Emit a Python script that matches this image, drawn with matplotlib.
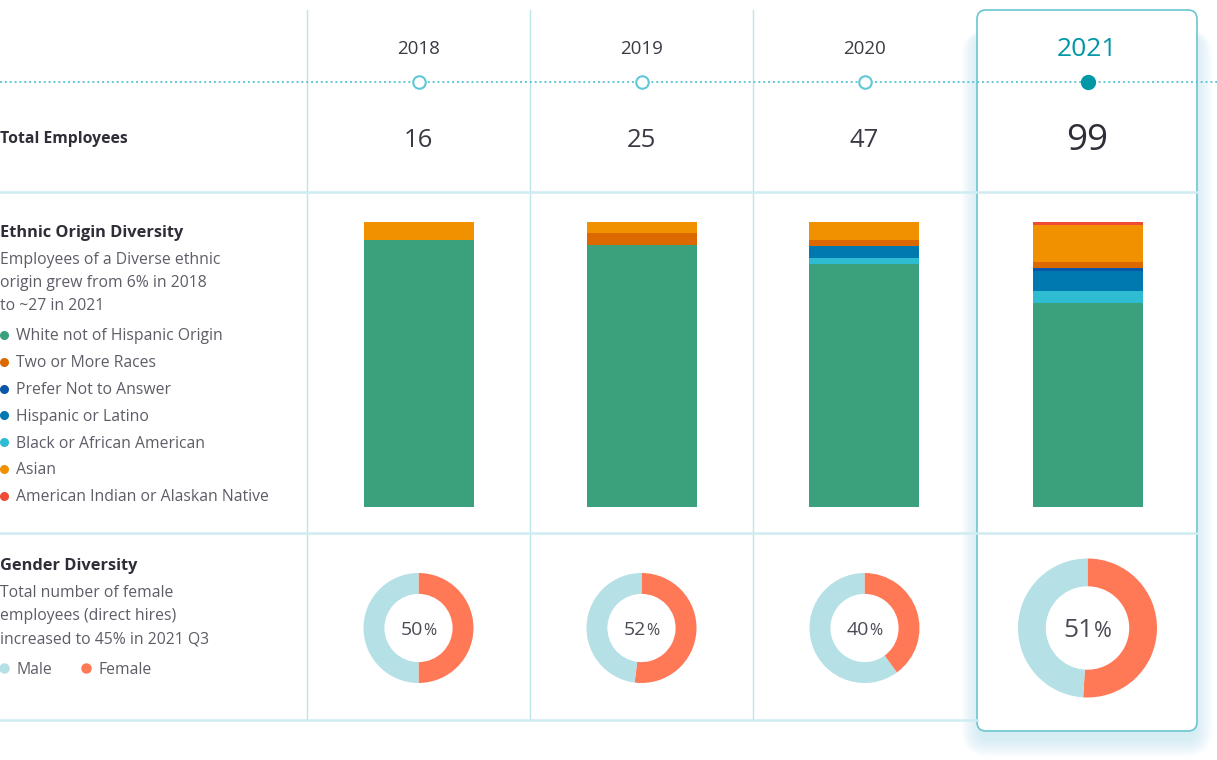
import matplotlib
matplotlib.use("Agg")
import matplotlib.pyplot as plt
from matplotlib.patches import FancyBboxPatch
import numpy as np

# ---------------- data ----------------
years = ["2018", "2019", "2020", "2021"]
total_employees = [16, 25, 47, 99]

ethnic_categories = ["White not of Hispanic Origin", "Two or More Races",
                     "Prefer Not to Answer", "Hispanic or Latino",
                     "Black or African American", "Asian",
                     "American Indian or Alaskan Native"]
white = [15, 23, 40, 71]
two_or_more = [0, 1, 1, 2]
prefer_not = [0, 0, 0, 1]
hispanic = [0, 0, 2, 7]
black = [0, 0, 1, 4]
asian = [1, 1, 3, 13]
american_indian = [0, 0, 0, 1]

female_pct = [50, 52, 40, 51]
gender_labels = ["Male", "Female"]

# ---------------- style ----------------
plt.rcParams['font.family'] = ['Open Sans', 'DejaVu Sans']
W, H = 1217, 760
DARK = "#2e2e38"
GRAY = "#5d5d68"
TEAL = "#0097a7"
DOT = "#5ec8d8"
GRID = "#cfecf1"
colors = {
    "White not of Hispanic Origin": "#3ba17c",
    "Two or More Races": "#dc6900",
    "Prefer Not to Answer": "#0a56a8",
    "Hispanic or Latino": "#0079b0",
    "Black or African American": "#2dbcd2",
    "Asian": "#f29100",
    "American Indian or Alaskan Native": "#ef4b35",
}
MALE_C = "#b4e0e6"
FEMALE_C = "#ff7956"

fig = plt.figure(figsize=(W / 100, H / 100), dpi=100)
fig.patch.set_facecolor("white")


def px_axes(x, y, w, h, **kw):
    return fig.add_axes([x / W, 1 - (y + h) / H, w / W, h / H], **kw)


bg = px_axes(0, 0, W, H)
bg.set_xlim(0, W)
bg.set_ylim(H, 0)
bg.axis("off")
bg.set_zorder(0)

col_left = 307
col_w = 223
centers = [col_left + col_w * (i + 0.5) for i in range(4)]

# card shadow + card
cx0, cy0, cx1, cy1 = 977, 10, 1197, 731
for k in range(12):
    g = 1 + k * 1.5
    bg.add_patch(FancyBboxPatch((cx0 - g + 2, cy0 + 25 - g * 0.3), (cx1 - cx0) + 2 * g - 4,
                                (cy1 - cy0) - 25 + g * 1.3 + 8,
                                boxstyle="round,pad=0,rounding_size=%f" % (10 + g),
                                facecolor="#6fcad8", edgecolor="none", alpha=0.022, zorder=1))
bg.add_patch(FancyBboxPatch((cx0, cy0), cx1 - cx0, cy1 - cy0,
                            boxstyle="round,pad=0,rounding_size=9",
                            facecolor="white", edgecolor="#6cc5d3", lw=1.2, zorder=2))

# grid lines
for x in [307, 530, 753]:
    bg.plot([x, x], [10, 720], color="#bfe5ec", lw=1, zorder=3)
for y in [192, 533]:
    bg.plot([0, 1197], [y, y], color=GRID, lw=1.8, zorder=3)
bg.plot([0, 977], [720, 720], color=GRID, lw=1.8, zorder=3)

# dotted timeline
bg.plot([0, W], [82, 82], color=DOT, lw=1.4, ls=(0, (1, 1.5)), zorder=4)
for i, cx in enumerate(centers):
    if i < 3:
        bg.plot([cx], [82], marker="o", ms=9, mfc="white", mec=DOT, mew=1.5, zorder=5)
    else:
        bg.plot([cx], [82], marker="o", ms=10, mfc=TEAL, mec=TEAL, zorder=5)

# years and totals
for i, (cx, yr, tot) in enumerate(zip(centers, years, total_employees)):
    if i < 3:
        bg.text(cx, 54, yr, ha="center", va="baseline", fontsize=13.5, color="#3a3a44", zorder=6)
        bg.text(cx, 147, str(tot), ha="center", va="baseline", fontsize=18.5, color="#3a3a44", zorder=6)
    else:
        bg.text(cx, 56, yr, ha="center", va="baseline", fontsize=19, color=TEAL,
                fontweight="medium", zorder=6)
        bg.text(cx, 150, str(tot), ha="center", va="baseline", fontsize=26.5, color=DARK, zorder=6)

# left panel text
TXT = 11.3
bg.text(0, 143, "Total Employees", ha="left", va="baseline", fontsize=11.3,
        fontweight="bold", color=DARK, zorder=6)
bg.text(0, 237, "Ethnic Origin Diversity", ha="left", va="baseline", fontsize=11.8,
        fontweight="bold", color=DARK, zorder=6)
for j, line in enumerate(["Employees of a Diverse ethnic", "origin grew from 6% in 2018",
                          "to ~27 in 2021"]):
    bg.text(0, 264 + 23 * j, line, ha="left", va="baseline", fontsize=TXT, color=GRAY, zorder=6)
for j, cat in enumerate(ethnic_categories):
    y = 335 + 26.8 * j
    bg.plot([4], [y], marker="o", ms=5.5, color=colors[cat], zorder=6)
    bg.text(16, y + 5.5, cat, ha="left", va="baseline", fontsize=TXT, color=GRAY, zorder=6)

bg.text(0, 570, "Gender Diversity", ha="left", va="baseline", fontsize=11.8,
        fontweight="bold", color=DARK, zorder=6)
for j, line in enumerate(["Total number of female", "employees (direct hires)",
                          "increased to 45% in 2021 Q3"]):
    bg.text(0, 597 + 23 * j, line, ha="left", va="baseline", fontsize=TXT, color=GRAY, zorder=6)
for (lx, lab, c) in [(4, gender_labels[0], MALE_C), (86, gender_labels[1], FEMALE_C)]:
    bg.plot([lx], [668], marker="o", ms=6.5, color=c, zorder=6)
    bg.text(lx + 12, 673.5, lab, ha="left", va="baseline", fontsize=TXT, color=GRAY, zorder=6)

# ---------------- stacked bars ----------------
bax = px_axes(col_left, 222, col_w * 4, 285)
bax.set_zorder(2)
bax.patch.set_alpha(0)
bax.axis("off")
bax.set_xlim(-0.5, 3.5)
bax.set_ylim(0, 1)
totals = np.array(total_employees, dtype=float)
stack_order = [("White not of Hispanic Origin", white),
               ("Black or African American", black),
               ("Hispanic or Latino", hispanic),
               ("Prefer Not to Answer", prefer_not),
               ("Two or More Races", two_or_more),
               ("Asian", asian),
               ("American Indian or Alaskan Native", american_indian)]
bottom = np.zeros(4)
xpos = np.arange(4)
for cat, vals in stack_order:
    share = np.array(vals) / totals
    bax.bar(xpos, share, bottom=bottom, width=110 / col_w, color=colors[cat],
            edgecolor="none")
    bottom += share

# ---------------- donuts ----------------
fig.canvas.draw()
renderer = fig.canvas.get_renderer()
for i, (cx, fp) in enumerate(zip(centers, female_pct)):
    r = 55 if i < 3 else 69.5
    width = 0.38 if i < 3 else 0.40
    dax = px_axes(cx - r, 628 - r, 2 * r, 2 * r)
    dax.set_zorder(2)
    dax.pie([fp, 100 - fp], colors=[FEMALE_C, MALE_C], startangle=90,
            counterclock=False, radius=1,
            wedgeprops=dict(width=width, edgecolor="none"))
    dax.set_xlim(-1, 1)
    dax.set_ylim(-1, 1)
    dax.set_aspect("equal")
    dax.axis("off")
    nfs, pfs = (14, 11.5) if i < 3 else (19, 15.5)
    u = 2 / (2 * r)
    base_y = -(nfs * 100 / 72 * 0.714 / 2) * u
    t1 = dax.text(0, base_y, str(fp), fontsize=nfs, color="#4a4a55", ha="left", va="baseline")
    t2 = dax.text(0, base_y, "%", fontsize=pfs, color="#4a4a55", ha="left", va="baseline")
    w1 = t1.get_window_extent(renderer).width
    w2 = t2.get_window_extent(renderer).width
    tot_w = w1 + w2
    start = -tot_w / 2 * u
    t1.set_position((start, base_y))
    t2.set_position((start + w1 * u, base_y))

fig.savefig("out.png", dpi=100, facecolor="white")
